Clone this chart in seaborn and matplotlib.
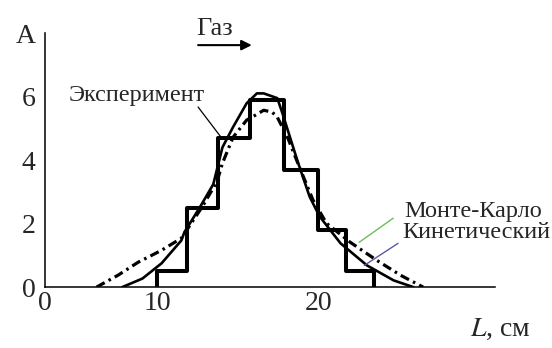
import numpy as np
import pandas as pd
import matplotlib
matplotlib.use("Agg")
import matplotlib.pyplot as plt
import seaborn as sns

# Experimental histogram: bin edges (cm) and bar heights
bin_edges = [10, 12, 14, 16, 18, 20, 22, 24]
bin_heights = [0.5, 2.5, 4.7, 5.9, 3.7, 1.8, 0.5]

# Kinetic model curve
kin_x = [6.9, 8.7, 10.3, 11.6, 11.8, 12.8, 13.7, 14.3, 15.0, 15.8, 16.4, 16.8,
         17.6, 17.9, 18.8, 19.5, 20.1, 21.6, 23.5, 25.4, 26.8]
kin_y = [0.0, 0.27, 0.75, 1.47, 1.73, 2.5, 3.24, 4.4, 5.04, 5.79, 6.1, 6.1,
         5.95, 5.48, 3.95, 2.85, 2.23, 1.38, 0.68, 0.21, 0.0]

# Monte Carlo curve
mc_x = [4.6, 6.5, 8.3, 10.3, 11.6, 13.0, 13.95, 14.3, 15.0, 15.8, 16.3, 16.8,
        17.3, 17.6, 18.2, 18.9, 19.7, 20.6, 22.3, 24.2, 25.9, 27.5]
mc_y = [0.0, 0.37, 0.78, 1.16, 1.54, 2.55, 3.33, 3.9, 4.72, 5.26, 5.41, 5.57,
        5.51, 5.35, 4.72, 3.78, 2.74, 2.01, 1.41, 0.84, 0.37, 0.0]

x_ticks = [0, 10, 15, 20, 30]
x_ticklabels = ["0", "10", "", "20", ""]
y_ticks = [0, 1, 2, 3, 4, 5, 6, 7, 8]
y_ticklabels = ["0", "", "2", "", "4", "", "6", "", "A"]

# Non-uniform horizontal scale of the axis (piecewise linear)
scale_data = [0, 10, 15, 20, 30, 40]
scale_pos = [0, 112, 188, 273, 413, 553]


def fwd(x):
    return np.interp(np.asarray(x, dtype=float), scale_data, scale_pos)


def inv(p):
    return np.interp(np.asarray(p, dtype=float), scale_pos, scale_data)


sns.set_style("white")
plt.rcParams["font.family"] = ["Liberation Serif", "DejaVu Serif"]
plt.rcParams["mathtext.fontset"] = "stix"

fig = plt.figure(figsize=(5.52, 3.48), dpi=100)
ax = fig.add_axes([0.0815, 0.175, 0.8155, 0.73])

centers = [(a + b) / 2 for a, b in zip(bin_edges[:-1], bin_edges[1:])]
hist_df = pd.DataFrame({"L": centers, "A": bin_heights})
sns.histplot(data=hist_df, x="L", weights="A", bins=bin_edges, element="step",
             fill=False, color="black", linewidth=2.9, ax=ax)
# closing sides of the outermost bars
ax.vlines([bin_edges[0], bin_edges[-1]], 0, [bin_heights[0], bin_heights[-1]],
          color="black", linewidth=2.9)

kin_df = pd.DataFrame({"L": kin_x, "A": kin_y})
mc_df = pd.DataFrame({"L": mc_x, "A": mc_y})
sns.lineplot(data=kin_df, x="L", y="A", sort=False, estimator=None,
             color="black", linewidth=1.9, ax=ax)
sns.lineplot(data=mc_df, x="L", y="A", sort=False, estimator=None,
             color="black", linewidth=2.3, ax=ax,
             linestyle=(0, (2.9, 1.4, 0.8, 1.4)))

ax.set_xscale("function", functions=(fwd, inv))
ax.set_xlim(0, 32.64)
ax.set_ylim(0, 8)

ax.set_xticks(x_ticks)
ax.set_xticklabels(x_ticklabels)
ax.set_yticks(y_ticks)
ax.set_yticklabels(y_ticklabels)
ax.tick_params(axis="x", direction="inout", length=4, width=1.3, labelsize=20,
               pad=1, color="black")
ax.tick_params(axis="y", direction="out", length=4, width=1.0, labelsize=20,
               pad=3, color="black")
ax.set_xlabel("")
ax.set_ylabel("")

for side in ["top", "right"]:
    ax.spines[side].set_visible(False)
for side in ["left", "bottom"]:
    ax.spines[side].set_color("black")
    ax.spines[side].set_linewidth(1.1)

# Leader lines to the annotations
ax.plot([12.7, 14.21], [5.67, 4.72], color="black", lw=0.9, clip_on=False)
ax.plot([25.36, 22.93], [2.17, 1.41], color="#6cbf5a", lw=1.0, clip_on=False)
ax.plot([25.71, 23.29], [1.38, 0.68], color="#5a5a9e", lw=1.0, clip_on=False)

# Gas flow direction
ax.annotate("", xy=(16.1, 7.62), xytext=(12.7, 7.62),
            arrowprops=dict(arrowstyle="-|>", color="black", lw=1.5,
                            mutation_scale=15, shrinkA=0, shrinkB=0),
            annotation_clip=False)

fig.text(0.388, 0.918, "Газ", fontsize=19, ha="center", va="center")
fig.text(0.248, 0.727, "Эксперимент", fontsize=17.5, ha="center", va="center")
fig.text(0.733, 0.391, "Монте-Карло", fontsize=17.5, ha="left", va="center")
fig.text(0.729, 0.333, "Кинетический", fontsize=17.5, ha="left", va="center")
fig.text(0.851, 0.052, "$L$, см", fontsize=20, ha="left", va="center")

fig.savefig("out.png", dpi=100)
